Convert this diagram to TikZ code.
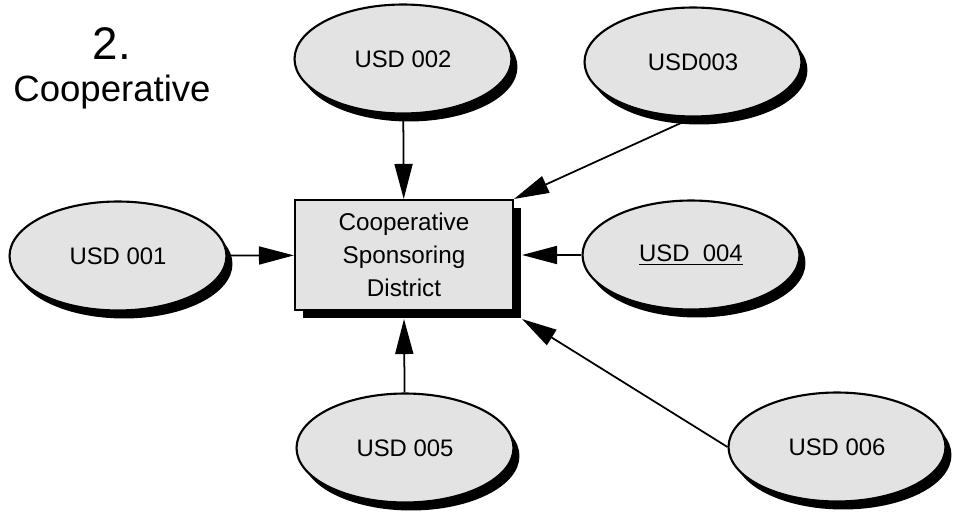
\documentclass[tikz,border=0pt]{standalone}
\usepackage{fontspec}
\setmainfont{Liberation Sans}
\usepackage{tikz}
\usetikzlibrary{calc}
\usetikzlibrary{arrows.meta}
\usetikzlibrary{shapes}
\usetikzlibrary{shapes.geometric}
\usetikzlibrary{shadows}
\tikzset{>=latex}
\tikzstyle{usd} = [ellipse, draw=black, line width=1.2pt, fill=gray!22,
  minimum width=4.34cm, minimum height=2.18cm,
  drop shadow={shadow xshift=0.12cm, shadow yshift=-0.16cm, fill=black, opacity=1},
  font=\fontsize{13.6}{16}\selectfont]
\tikzstyle{link} = [-{Triangle[length=7mm, width=3.6mm]}, line width=1pt, draw=black]

\begin{document}
\begin{tikzpicture}[x=0.02cm, y=-0.02cm]
\useasboundingbox (0, 0) rectangle (953, 516);
\node [font=\fontsize{26}{30}\selectfont] (N) at (112, 44) {2.};
\node [font=\fontsize{20.8}{24}\selectfont] (T) at (112, 92) {Cooperative};
\node [rectangle, draw=black, line width=1.2pt, fill=gray!22, align=center,
  minimum width=4.36cm, minimum height=2.2cm,
  drop shadow={shadow xshift=0.16cm, shadow yshift=-0.16cm, fill=black, opacity=1},
  font=\fontsize{13.8}{18.8}\selectfont] (CSD) at (404, 255)
  {Cooperative\\Sponsoring\\District};
\node [usd] (U1) at (118, 256) {USD 001};
\node [usd] (U2) at (403, 59) {USD 002};
\node [usd] (U3) at (693, 62) {USD003};
\node [usd] (U4) at (691, 255) {\underline{USD\ \ 004}};
\node [usd] (U5) at (405, 448) {USD 005};
\node [usd] (U6) at (837, 447) {USD 006};
\draw [link] (U1) to (CSD);
\draw [link] (U2) to (CSD);
\draw [link] (U3.south) to (CSD.north east);
\draw [link] (U4) to ([xshift=0.16cm]CSD.east);
\draw [link] (U5) to ([yshift=-0.16cm]CSD.south);
\draw [link] (U6.west) to ([xshift=0.16cm, yshift=-0.16cm]CSD.south east);
\end{tikzpicture}
\end{document}
